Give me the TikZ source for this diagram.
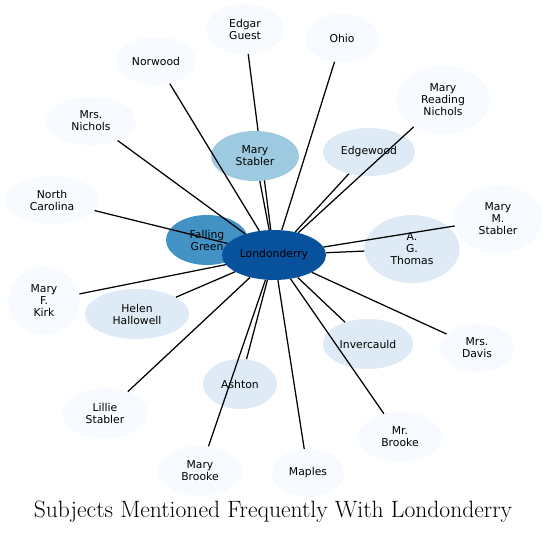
\documentclass[tikz,border=0pt]{standalone}
\usepackage{fontspec}
\newfontfamily\nodefont{DejaVu Sans}
\usetikzlibrary{shapes.geometric}
\pgfdeclarelayer{background}
\pgfsetlayers{background,main}
\definecolor{hubc}{HTML}{08519C}
\definecolor{midc}{HTML}{4292C6}
\definecolor{lowc}{HTML}{9ECAE1}
\definecolor{ltc}{HTML}{DEEBF7}
\definecolor{vlc}{HTML}{F7FBFF}
\tikzset{
  ent/.style 2 args={ellipse, inner sep=0pt, minimum width=#1pt, minimum height=#2pt,
    font=\nodefont\fontsize{10.8}{12}\selectfont, align=center, text=black},
  link/.style={draw=black, line width=1.25pt},
}
\begin{document}
\begin{tikzpicture}[x=1pt,y=-1pt]
\useasboundingbox (0,0) rectangle (547,534);
% nodes
\node[ent={82}{50}, fill=midc] (FG) at (207,240) {Falling\\Green};
\node[ent={104}{50}, fill=hubc] (L) at (274,255) {Londonderry};
\node[ent={78}{50}, fill=vlc] (EG) at (245,29) {Edgar\\Guest};
\node[ent={74}{48}, fill=vlc] (OH) at (342,38) {Ohio};
\node[ent={80}{48}, fill=vlc] (NW) at (156,61) {Norwood};
\node[ent={94}{68}, fill=vlc] (MRN) at (443,100) {Mary\\Reading\\Nichols};
\node[ent={90}{48}, fill=vlc] (MN) at (91,121) {Mrs.\\Nichols};
\node[ent={92}{48}, fill=ltc] (EW) at (369,152) {Edgewood};
\node[ent={94}{48}, fill=vlc] (NC) at (52,200) {North\\Carolina};
\node[ent={88}{68}, fill=vlc] (MMS) at (498,219) {Mary\\M.\\Stabler};
\node[ent={95}{68}, fill=ltc] (AGT) at (412,249) {A.\\G.\\Thomas};
\node[ent={72}{68}, fill=vlc] (MFK) at (44,301) {Mary\\F.\\Kirk};
\node[ent={104}{50}, fill=ltc] (HH) at (137,314) {Helen\\Hallowell};
\node[ent={90}{50}, fill=ltc] (IN) at (368,344) {Invercauld};
\node[ent={74}{48}, fill=vlc] (MD) at (477,348) {Mrs.\\Davis};
\node[ent={74}{50}, fill=ltc] (AS) at (240,384) {Ashton};
\node[ent={86}{50}, fill=vlc] (LS) at (105,413) {Lillie\\Stabler};
\node[ent={84}{50}, fill=vlc] (MB) at (400,437) {Mr.\\Brooke};
\node[ent={84}{50}, fill=vlc] (MYB) at (200,471) {Mary\\Brooke};
\node[ent={72}{48}, fill=vlc] (MP) at (308,473) {Maples};
% hidden edges
\begin{pgfonlayer}{background}
\draw[link] (L) -- (EG);
\draw[link] (L) -- (FG);
\end{pgfonlayer}
\node[ent={88}{50}, fill=lowc] (MS) at (255,156) {Mary\\Stabler};
% visible edges
\foreach \t in {MS,OH,NW,MRN,MN,EW,NC,MMS,AGT,MFK,HH,IN,MD,AS,LS,MB,MYB,MP}
  \draw[link] (L) -- (\t);
\node[font=\fontsize{23.6}{28}\selectfont] (title) at (273,512) {Subjects Mentioned Frequently With Londonderry};
\end{tikzpicture}
\end{document}
